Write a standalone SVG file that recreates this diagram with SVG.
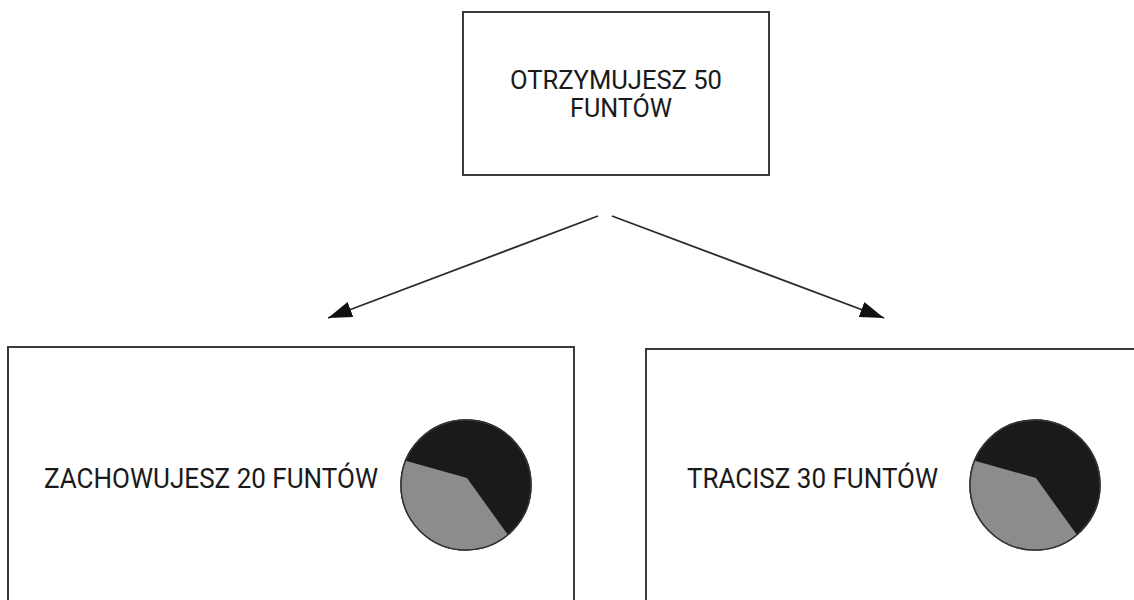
<svg xmlns="http://www.w3.org/2000/svg" width="1134" height="600" viewBox="0 0 1134 600">
<style>
.box{fill:#fff;stroke:#3a3a3a;stroke-width:2}
.lbl{font-family:Roboto,"Liberation Sans",sans-serif;fill:#1a1a1a}
.conn{stroke:#2a2a2a;stroke-width:1.8;fill:none}
.pieb{fill:#1a1a1a;stroke:#333;stroke-width:1.5}
.pieg{fill:#8c8c8c}
</style>
<defs>
<marker id="ah" markerUnits="userSpaceOnUse" markerWidth="28" markerHeight="20" refX="24" refY="8" orient="auto">
<path d="M0,0 L24,8 L0,16 Z" fill="#111"/>
</marker>
</defs>
<rect width="1134" height="600" fill="#fff"/>
<g id="top">
<rect class="box" x="463" y="12" width="306" height="163"/>
<text class="lbl" x="616" y="89" font-size="25" text-anchor="middle" textLength="212" lengthAdjust="spacingAndGlyphs">OTRZYMUJESZ 50</text>
<text class="lbl" x="621" y="117" font-size="25" text-anchor="middle" textLength="102" lengthAdjust="spacingAndGlyphs">FUNTÓW</text>
</g>
<g id="connectors">
<line class="conn" x1="598" y1="216" x2="328" y2="318" marker-end="url(#ah)"/>
<line class="conn" x1="612" y1="216" x2="884" y2="318" marker-end="url(#ah)"/>
</g>
<g id="left">
<rect class="box" x="8" y="347" width="566" height="270"/>
<text class="lbl" x="44" y="488" font-size="27" textLength="334" lengthAdjust="spacingAndGlyphs">ZACHOWUJESZ 20 FUNTÓW</text>
<circle class="pieb" cx="466" cy="485" r="65"/>
<path class="pieg" d="M467,478 L405.7,460.7 A65,65 0 0 0 507.8,534.8 Z"/>
<circle cx="466" cy="485" r="65" fill="none" stroke="#333" stroke-width="1.5"/>
</g>
<g id="right">
<rect class="box" x="646" y="349" width="500" height="270"/>
<text class="lbl" x="687" y="488" font-size="27" textLength="251" lengthAdjust="spacingAndGlyphs">TRACISZ 30 FUNTÓW</text>
<circle class="pieb" cx="1035" cy="485" r="65"/>
<path class="pieg" d="M1036,478 L974.7,460.7 A65,65 0 0 0 1076.8,534.8 Z"/>
<circle cx="1035" cy="485" r="65" fill="none" stroke="#333" stroke-width="1.5"/>
</g>
</svg>
